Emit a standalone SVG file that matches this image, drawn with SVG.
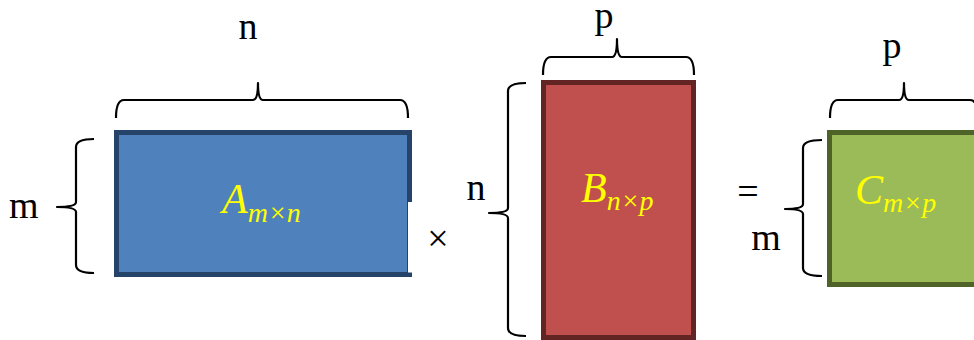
<svg xmlns="http://www.w3.org/2000/svg" width="974" height="340" viewBox="0 0 974 340">
<style>
.lbl{font-family:'Liberation Serif','Times New Roman',Times,'Nimbus Roman',serif;font-size:38px;fill:#000}
.mat{font-family:'Liberation Serif','Times New Roman',Times,'Nimbus Roman',serif;font-style:italic;font-size:42px;fill:#FFFF00}
.sub{font-size:28px}
.brace{fill:none;stroke:#000;stroke-width:2.2;stroke-linejoin:round}
</style>
<rect width="974" height="340" fill="#fff"/>
<g id="matrixA">
<rect x="116.5" y="132.5" width="293" height="142" fill="#4F81BD" stroke="#264469" stroke-width="5"/>
<rect x="408" y="202" width="7" height="70.5" fill="#fff"/>
<text class="mat" x="222" y="213">A<tspan class="sub" dy="9">m×n</tspan></text>
<path class="brace" d="M116,118 Q116,100 124,100 L253,100 Q258,100 258,83 Q258,100 263,100 L400,100 Q408,100 408,118"/>
<text class="lbl" x="248" y="39" text-anchor="middle">n</text>
<path class="brace" d="M94,139 Q76,139 76,147 L76,202 Q76,207 57,207 Q76,207 76,212 L76,265 Q76,273 94,273"/>
<text class="lbl" x="9" y="218">m</text>
</g>
<g id="matrixB">
<rect x="543.5" y="82.5" width="150" height="255" fill="#C0504D" stroke="#632523" stroke-width="5"/>
<text class="mat" x="581" y="202">B<tspan class="sub" dy="8">n×p</tspan></text>
<path class="brace" d="M543,75 Q543,57 551,57 L612,57 Q617,57 617,39 Q617,57 622,57 L686,57 Q694,57 694,75"/>
<text class="lbl" x="604" y="28" text-anchor="middle">p</text>
<path class="brace" d="M526,83 Q508,83 508,91 L508,208 Q508,213 489,213 Q508,213 508,218 L508,328 Q508,336 526,336"/>
<text class="lbl" x="476" y="200" text-anchor="middle">n</text>
</g>
<g id="matrixC">
<rect x="829.5" y="132.5" width="160" height="152" fill="#9BBB59" stroke="#4F6228" stroke-width="5"/>
<text class="mat" x="855" y="204">C<tspan class="sub" dy="8">m×p</tspan></text>
<path class="brace" d="M830,118 Q830,100 838,100 L899,100 Q904,100 904,83 Q904,100 909,100 L970,100 Q978,100 978,118"/>
<text class="lbl" x="892" y="58" text-anchor="middle">p</text>
<path class="brace" d="M822,140 Q803,140 803,148 L803,204 Q803,209 785,209 Q803,209 803,214 L803,268 Q803,276 822,276"/>
<text class="lbl" x="766" y="250" text-anchor="middle">m</text>
</g>
<g id="operators">
<text class="lbl" x="438" y="251" text-anchor="middle">×</text>
<text class="lbl" x="748" y="204" text-anchor="middle">=</text>
</g>
</svg>
